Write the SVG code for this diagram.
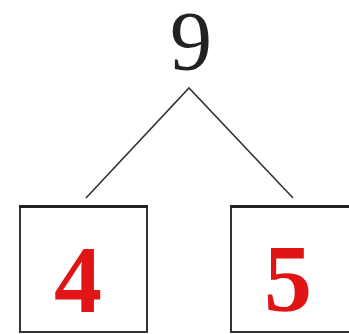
<svg xmlns="http://www.w3.org/2000/svg" width="349" height="334" viewBox="0 0 349 334">
<style>
.box{fill:#fff;stroke:#333;stroke-width:2}
.top{stroke:#222;stroke-width:3}
.num{font-weight:bold;fill:#e01515;text-anchor:middle}
.root{fill:#222;text-anchor:middle}
.edge{stroke:#333;stroke-width:1.6;fill:none}
</style>
<rect width="349" height="334" fill="#fff"/>
<g id="connectors">
<polyline class="edge" points="86,198 189,88 293,198"/>
</g>
<g id="node-9">
<text class="root" x="191" y="70" font-size="84" font-family="Liberation Serif, Times New Roman, serif">9</text>
</g>
<g id="node-4">
<rect class="box" x="20" y="207" width="127" height="125"/>
<line class="top" x1="19" y1="206.5" x2="148" y2="206.5"/>
<text class="num" x="78" y="312" font-size="96" font-family="Liberation Serif, Times New Roman, serif">4</text>
</g>
<g id="node-5">
<rect class="box" x="231" y="207" width="130" height="125"/>
<line class="top" x1="230" y1="206.5" x2="349" y2="206.5"/>
<text class="num" x="288" y="311" font-size="96" font-family="Liberation Serif, Times New Roman, serif">5</text>
</g>
</svg>
